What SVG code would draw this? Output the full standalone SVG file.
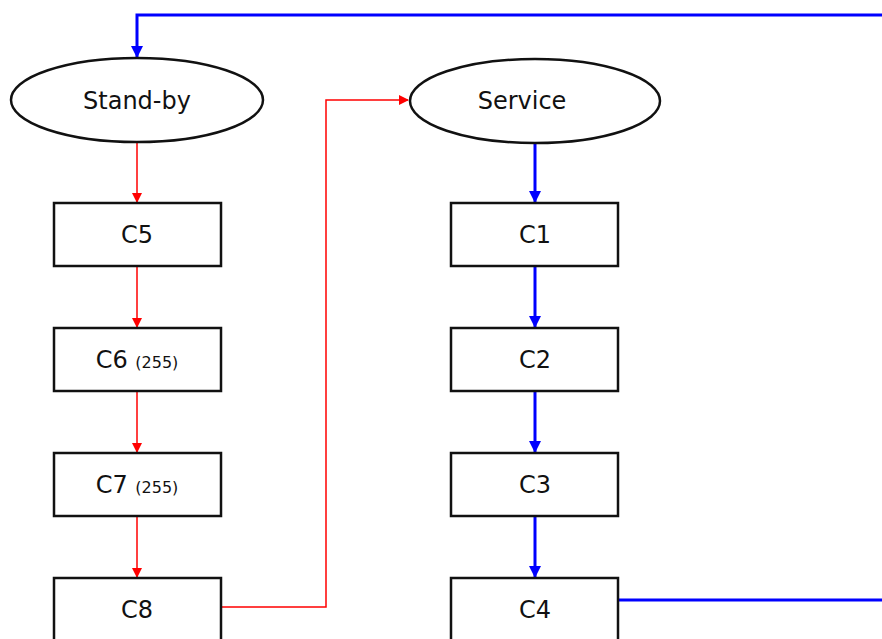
<svg xmlns="http://www.w3.org/2000/svg" width="882" height="639" viewBox="0 0 882 639">
<style>
.n{fill:#fff;stroke:#111;stroke-width:2.5}
.t{font-family:"DejaVu Sans",Verdana,sans-serif;font-size:24px;fill:#111;text-anchor:middle}
.s{font-size:16px}
.r{fill:none;stroke:#f00;stroke-width:1.5}
.b{fill:none;stroke:#00f;stroke-width:3}
</style>
<defs>
<marker id="ar" markerWidth="10" markerHeight="10" refX="9" refY="5" orient="auto" markerUnits="userSpaceOnUse"><path d="M0,0 L10,5 L0,10 Z" fill="#f00"/></marker>
<marker id="ab" markerWidth="12" markerHeight="12" refX="11" refY="6" orient="auto" markerUnits="userSpaceOnUse"><path d="M0,0 L12,6 L0,12 Z" fill="#00f"/></marker>
</defs>
<g id="connectors">
<path class="r" d="M137,143 V202" marker-end="url(#ar)"/>
<path class="r" d="M137,266 V327" marker-end="url(#ar)"/>
<path class="r" d="M137,391 V452" marker-end="url(#ar)"/>
<path class="r" d="M137,516 V577" marker-end="url(#ar)"/>
<path class="r" d="M221,607 H326 V100 H408" marker-end="url(#ar)"/>
<path class="b" d="M535,144 V202" marker-end="url(#ab)"/>
<path class="b" d="M535,266 V327" marker-end="url(#ab)"/>
<path class="b" d="M535,391 V452" marker-end="url(#ab)"/>
<path class="b" d="M535,516 V577" marker-end="url(#ab)"/>
<path class="b" d="M618,600 H886"/>
<path class="b" d="M886,15 H137 V57" marker-end="url(#ab)"/>
</g>
<g id="standby"><ellipse class="n" cx="137" cy="100" rx="126" ry="42"/><text class="t" x="137" y="109">Stand-by</text></g>
<g id="service"><ellipse class="n" cx="535" cy="101" rx="125" ry="42"/><text class="t" x="522" y="109">Service</text></g>
<g id="c5"><rect class="n" x="54" y="203" width="167" height="63"/><text class="t" x="137" y="243">C5</text></g>
<g id="c6"><rect class="n" x="54" y="328" width="167" height="63"/><text class="t" x="137" y="368">C6 <tspan class="s">(255)</tspan></text></g>
<g id="c7"><rect class="n" x="54" y="453" width="167" height="63"/><text class="t" x="137" y="493">C7 <tspan class="s">(255)</tspan></text></g>
<g id="c8"><rect class="n" x="54" y="578" width="167" height="66"/><text class="t" x="137" y="618">C8</text></g>
<g id="c1"><rect class="n" x="451" y="203" width="167" height="63"/><text class="t" x="535" y="243">C1</text></g>
<g id="c2"><rect class="n" x="451" y="328" width="167" height="63"/><text class="t" x="535" y="368">C2</text></g>
<g id="c3"><rect class="n" x="451" y="453" width="167" height="63"/><text class="t" x="535" y="493">C3</text></g>
<g id="c4"><rect class="n" x="451" y="578" width="167" height="66"/><text class="t" x="535" y="618">C4</text></g>
</svg>
